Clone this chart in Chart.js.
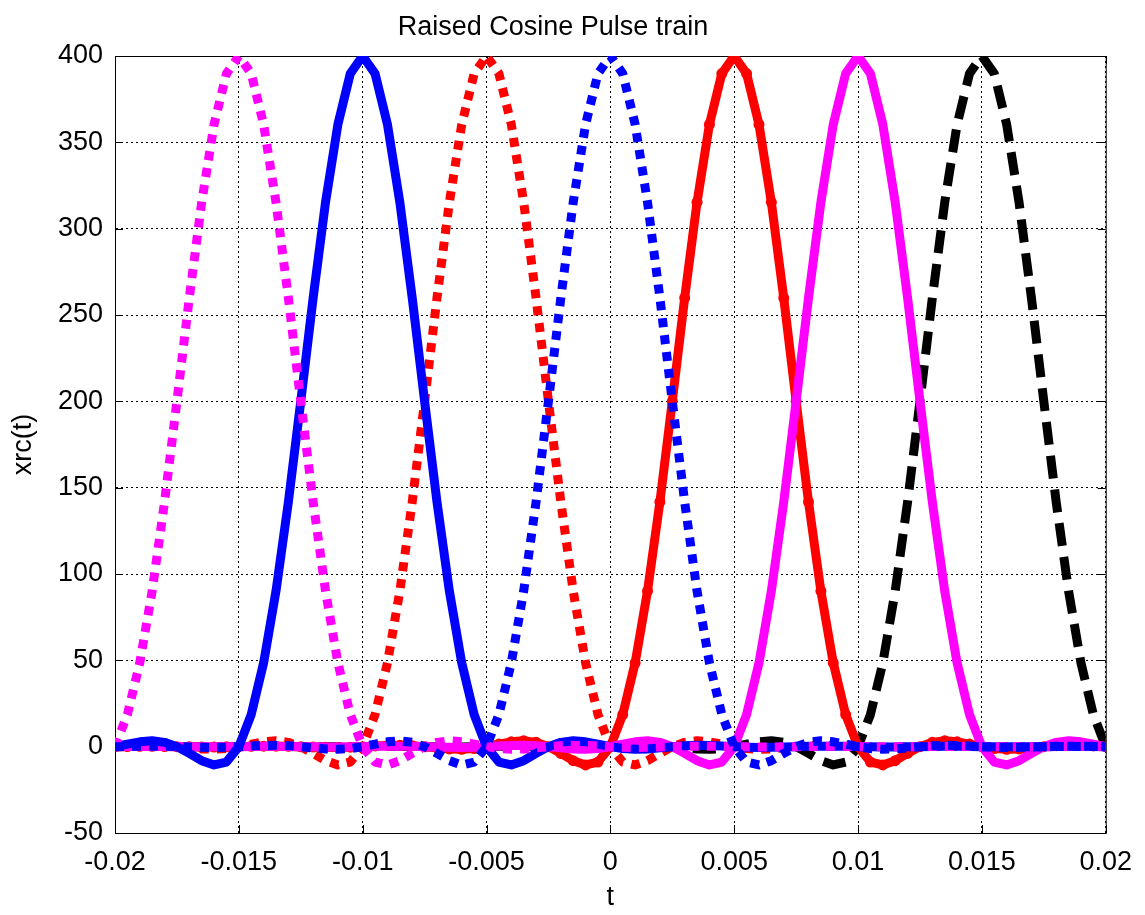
<!DOCTYPE html>
<html>
<head>
<meta charset="utf-8">
<title>Raised Cosine Pulse train</title>
<script src="https://cdn.jsdelivr.net/npm/chart.js@4.4.1/dist/chart.umd.min.js"></script>
<style>
  html, body { margin: 0; padding: 0; background: #fff; }
  #wrap { width: 1145px; height: 915px; }
</style>
</head>
<body>
<div id="wrap"><canvas id="pulseChart" width="1145" height="915"></canvas></div>
<script>
// sample times (s)
const tValues = [
  -0.02, -0.0195, -0.019, -0.0185, -0.018, -0.0175, -0.017, -0.0165, -0.016, -0.0155,
  -0.015, -0.0145, -0.014, -0.0135, -0.013, -0.0125, -0.012, -0.0115, -0.011, -0.0105,
  -0.01, -0.0095, -0.009, -0.0085, -0.008, -0.0075, -0.007, -0.0065, -0.006, -0.0055,
  -0.005, -0.0045, -0.004, -0.0035, -0.003, -0.0025, -0.002, -0.0015, -0.001, -0.0005,
  0, 0.0005, 0.001, 0.0015, 0.002, 0.0025, 0.003, 0.0035, 0.004, 0.0045,
  0.005, 0.0055, 0.006, 0.0065, 0.007, 0.0075, 0.008, 0.0085, 0.009, 0.0095,
  0.01, 0.0105, 0.011, 0.0115, 0.012, 0.0125, 0.013, 0.0135, 0.014, 0.0145,
  0.015, 0.0155, 0.016, 0.0165, 0.017, 0.0175, 0.018, 0.0185, 0.019, 0.0195, 0.02
];

// one pulse, value at |t - centre| = 0, 0.5 ms, 1 ms, ... 35 ms
const pulseShape = [
  400, 389.8, 360.4, 315.3, 259.9, 200, 141.7, 90.1, 48.5, 18.6,
  0, -8.9, -10.6, -8.1, -3.9, 0, 2.5, 3.4, 2.8, 1.5,
  0, -1.1, -1.5, -1.3, -0.7, 0, 0.6, 0.8, 0.7, 0.4,
  0, -0.3, -0.5, -0.4, -0.2, 0, 0.2, 0.3, 0.3, 0.2,
  0, -0.1, -0.2, -0.2, -0.1, 0, 0.1, 0.2, 0.2, 0.1,
  0, -0.1, -0.1, -0.1, -0.1, 0, 0.1, 0.1, 0.1, 0.1,
  0, -0.1, -0.1, -0.1, -0.1, 0, 0.1, 0.1, 0.1, 0.1, 0
];

const pulseCenters = [-0.015, -0.01, -0.005, 0, 0.005, 0.01, 0.015];
const pulseColors = ['#ff00ff', '#0000ff', '#ff0000', '#0000ff', '#ff0000', '#ff00ff', '#000000'];
const pulseDashes = [[9, 8], [], [9, 8], [9, 8], [], [], [23, 11]];
const pulseMarkers = [0, 0, 0, 0, 5.5, 0, 0];
const drawOrder = [2, 3, 5, 1, 6, 4, 7]; // lower = on top

const xTicks = [-0.02, -0.015, -0.01, -0.005, 0, 0.005, 0.01, 0.015, 0.02];
const yTicks = [-50, 0, 50, 100, 150, 200, 250, 300, 350, 400];

const FONT = "'Liberation Sans', Arial, Helvetica, sans-serif";

function pulseSeries(center) {
  return tValues.map((t) => ({
    x: t,
    y: pulseShape[Math.round(Math.abs(t - center) * 2000)],
  }));
}

const datasets = pulseCenters.map((c, i) => ({
  label: 'pulse ' + c,
  data: pulseSeries(c),
  borderColor: pulseColors[i],
  backgroundColor: pulseColors[i],
  borderWidth: 9,
  borderDash: pulseDashes[i],
  borderCapStyle: 'butt',
  borderJoinStyle: 'round',
  pointRadius: pulseMarkers[i],
  pointBorderWidth: 0,
  pointBackgroundColor: pulseColors[i],
  tension: 0,
  fill: false,
  order: drawOrder[i],
}));

// box and inward ticks, matlab style
const axisBox = {
  id: 'axisBox',
  beforeDatasetsDraw(chart) {
    const { ctx, chartArea: a, scales } = chart;
    ctx.save();
    ctx.strokeStyle = '#000';
    ctx.lineWidth = 1;
    ctx.setLineDash([]);
    ctx.strokeRect(a.left + 0.5, a.top + 0.5, a.right - a.left, a.bottom - a.top);
    ctx.beginPath();
    xTicks.forEach((v) => {
      const px = Math.round(scales.x.getPixelForValue(v)) + 0.5;
      ctx.moveTo(px, a.bottom); ctx.lineTo(px, a.bottom - 8);
      ctx.moveTo(px, a.top); ctx.lineTo(px, a.top + 8);
    });
    yTicks.forEach((v) => {
      const py = Math.round(scales.y.getPixelForValue(v)) + 0.5;
      ctx.moveTo(a.left, py); ctx.lineTo(a.left + 8, py);
      ctx.moveTo(a.right, py); ctx.lineTo(a.right - 8, py);
    });
    ctx.stroke();
    ctx.restore();
  },
};

new Chart(document.getElementById('pulseChart'), {
  type: 'line',
  data: { datasets },
  plugins: [axisBox],
  options: {
    responsive: false,
    animation: false,
    devicePixelRatio: 1,
    layout: { padding: { left: 0, right: 39, top: 0, bottom: 0 } },
    plugins: {
      legend: { display: false },
      tooltip: { enabled: false },
      title: {
        display: true,
        text: 'Raised Cosine Pulse train',
        color: '#000',
        font: { family: FONT, size: 27, weight: 'normal' },
        padding: { top: 11, bottom: 12.6 },
      },
    },
    scales: {
      x: {
        type: 'linear',
        min: -0.02,
        max: 0.02,
        afterBuildTicks: (s) => { s.ticks = xTicks.map((v) => ({ value: v })); },
        afterFit: (s) => { s.height = 82; },
        ticks: {
          autoSkip: false,
          maxRotation: 0,
          color: '#000',
          padding: 13,
          font: { family: FONT, size: 27 },
          callback: (v) => String(+Number(v).toFixed(3)),
        },
        grid: { color: '#000', lineWidth: 1, drawTicks: false },
        border: { display: true, color: '#000', width: 1, dash: [2, 3] },
        title: {
          display: true,
          text: 't',
          color: '#000',
          font: { family: FONT, size: 27 },
          padding: { top: 0, bottom: 1 },
        },
      },
      y: {
        type: 'linear',
        min: -50,
        max: 400,
        afterBuildTicks: (s) => { s.ticks = yTicks.map((v) => ({ value: v })); },
        afterFit: (s) => { s.width = 115; },
        ticks: {
          color: '#000',
          padding: 12,
          font: { family: FONT, size: 27 },
        },
        grid: { color: '#000', lineWidth: 1, drawTicks: false },
        border: { display: true, color: '#000', width: 1, dash: [2, 3] },
        title: {
          display: true,
          text: 'xrc(t)',
          color: '#000',
          font: { family: FONT, size: 27 },
          padding: { top: 7, bottom: 0 },
        },
      },
    },
  },
});
</script>
</body>
</html>
